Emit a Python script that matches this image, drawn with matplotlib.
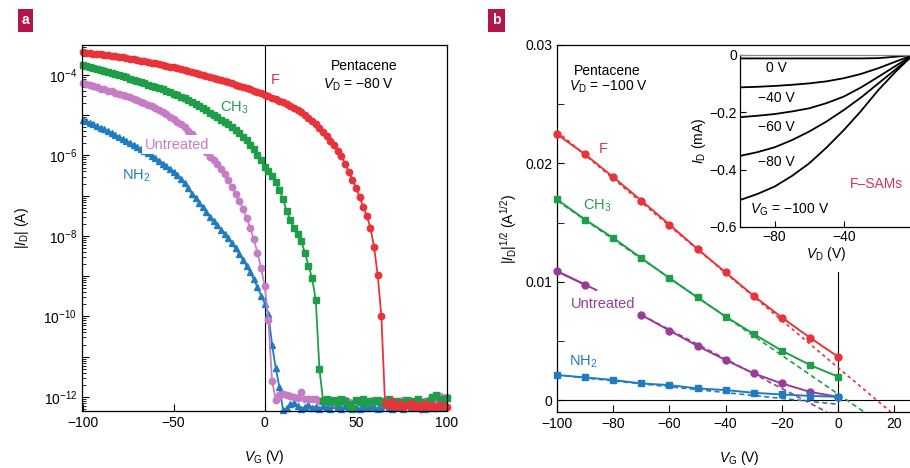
import numpy as np
import matplotlib
matplotlib.use('Agg')
import matplotlib.pyplot as plt
from matplotlib.ticker import LogLocator, FuncFormatter, NullFormatter

plt.rcParams['font.family'] = ['Liberation Sans', 'DejaVu Sans']
plt.rcParams['mathtext.fontset'] = 'custom'
plt.rcParams['mathtext.rm'] = 'Liberation Sans'
plt.rcParams['mathtext.it'] = 'Liberation Sans:italic'
plt.rcParams['mathtext.bf'] = 'Liberation Sans:bold'

# ---- panel a: transfer curves, log10(|I_D| / A), V_G swept -100..100 V in 2 V steps
vg_a = np.arange(-100, 101, 2)

f_log = [-3.44, -3.45, -3.46, -3.47, -3.48, -3.49, -3.50, -3.51, -3.52, -3.535,
         -3.55, -3.56, -3.58, -3.59, -3.605, -3.62, -3.64, -3.655, -3.675, -3.69,
         -3.71, -3.73, -3.75, -3.77, -3.79, -3.81, -3.83, -3.85, -3.87, -3.895,
         -3.92, -3.94, -3.965, -3.99, -4.015, -4.04, -4.07, -4.095, -4.125, -4.15,
         -4.18, -4.21, -4.24, -4.27, -4.30, -4.33, -4.36, -4.39, -4.42, -4.455,
         -4.49,
         -4.52, -4.56, -4.60, -4.64, -4.68, -4.73, -4.78, -4.83, -4.88, -4.93,
         -5.00, -5.07, -5.15, -5.23, -5.31, -5.41, -5.52, -5.63, -5.75, -5.88,
         -6.02, -6.20, -6.40, -6.60, -6.80, -7.02, -7.28, -7.50, -7.80, -8.28,
         -8.98, -10.0,
         -12.15, -12.22, -12.10, -12.25, -12.18, -12.28, -12.20, -12.14, -12.26,
         -12.20, -12.30, -12.17, -12.24, -12.21, -12.27, -12.19, -12.23, -12.25]

ch3_log = [-3.75, -3.77, -3.80, -3.82, -3.845, -3.87, -3.895, -3.92, -3.95, -3.975,
           -4.00, -4.03, -4.06, -4.09, -4.12, -4.15, -4.18, -4.21, -4.24, -4.27,
           -4.30, -4.33, -4.36, -4.39, -4.425, -4.46, -4.50, -4.54, -4.58, -4.62,
           -4.66, -4.71, -4.76, -4.82, -4.88, -4.94, -4.99, -5.05, -5.11, -5.16,
           -5.22, -5.29, -5.37, -5.45, -5.53, -5.62, -5.73, -5.85, -5.98, -6.12,
           -6.28,
           -6.38, -6.50, -6.65, -6.85, -7.08, -7.38, -7.60, -7.80, -7.94, -8.12,
           -8.42, -8.74, -9.05, -9.60, -11.30,
           -12.10, -12.05, -12.12, -12.08, -12.15, -12.06, -12.10, -12.18, -12.30,
           -12.08, -12.12, -12.05, -12.14, -12.09, -12.11, -12.07, -12.16, -12.10,
           -12.06, -12.13, -12.09, -12.20, -12.12, -12.08, -12.15, -12.10, -12.06,
           -12.12, -12.18, -12.09, -12.00, -11.96, -12.05, -12.10, -12.02]

untr_log = [-4.20, -4.22, -4.25, -4.28, -4.31, -4.34, -4.36, -4.39, -4.41, -4.44,
            -4.46, -4.49, -4.52, -4.55, -4.59, -4.62, -4.66, -4.70, -4.74, -4.78,
            -4.83, -4.88, -4.93, -4.98, -5.04, -5.10, -5.16, -5.23, -5.30, -5.38,
            -5.47, -5.57, -5.68, -5.80, -5.92, -6.03, -6.12, -6.22, -6.33, -6.47,
            -6.62, -6.78, -6.95, -7.13, -7.32, -7.55, -7.80, -8.08, -8.42, -8.80,
            -9.25,
            -10.10, -11.60, -12.07, -11.95, -11.94, -11.96, -11.98, -12.00, -12.02,
            -11.89, -12.04, -12.05, -12.04, -12.06, -12.10, -12.08, -12.12, -12.09,
            -12.14, -12.10, -12.13, -12.08, -12.12, -12.15, -12.10, -12.13, -12.09,
            -12.14, -12.11, -12.08, -12.12, -12.16, -12.10, -12.13, -12.09, -12.15,
            -12.11, -12.08, -12.14, -12.10, -12.12, -12.09, -12.15, -12.11, -12.07,
            -12.12, -12.06, -11.98, -12.03, -12.00]

nh2_log = [-5.11, -5.15, -5.19, -5.23, -5.27, -5.31, -5.35, -5.39, -5.44, -5.49,
           -5.54, -5.59, -5.64, -5.69, -5.74, -5.79, -5.84, -5.89, -5.95, -6.01,
           -6.07, -6.13, -6.20, -6.27, -6.33,
           -6.40, -6.49, -6.59, -6.69, -6.80, -6.95, -7.06, -7.17, -7.29, -7.40,
           -7.52, -7.63, -7.73, -7.84, -7.95, -8.06, -8.18, -8.31, -8.45, -8.59,
           -8.74, -8.90, -9.08, -9.28, -9.48, -9.68,
           -9.95, -10.70, -11.28, -11.75, -12.32,
           -12.28, -12.18, -12.15, -12.22, -12.30, -12.25, -12.20, -12.27, -12.24,
           -12.31, -12.22, -12.26, -12.29, -12.21, -12.25, -12.30, -12.23, -12.27,
           -12.20, -12.26, -12.31, -12.24, -12.28, -12.22, -12.25, -12.30, -12.27,
           -12.21, -12.26, -12.29, -12.23, -12.25, -12.31, -12.20, -12.24, -12.28,
           -12.22, -12.26, -12.30, -12.23, -12.27, -12.21, -12.25, -12.24, -12.22]

# ---- panel b: sqrt(|I_D|) vs V_G, V_D = -100 V
vg_b = [-100, -90, -80, -70, -60, -50, -40, -30, -20, -10, 0]
f_sqrt = [0.02246, 0.02076, 0.01884, 0.01686, 0.01483, 0.01277, 0.01079, 0.00881, 0.00698, 0.00528, 0.00367]
ch3_sqrt = [0.01695, 0.01525, 0.0137, 0.0120, 0.01031, 0.00867, 0.00706, 0.00559, 0.00418, 0.00297, 0.00198]
untr_sqrt = [0.01087, 0.00975, np.nan, 0.0072, 0.00588, 0.00458, 0.00339, 0.00226, 0.00141, 0.0007, 0.00028]
nh2_sqrt = [0.00212, 0.00192, 0.0017, 0.00141, 0.00127, 0.00099, 0.00085, 0.00062, 0.00048, 0.00036, 0.00028]

# linear fits (end points) used for threshold extraction
f_fit_v, f_fit_y = [-100, 18.8], [0.0227, -0.001]
ch3_fit_v, ch3_fit_y = [-100, 9.3], [0.01685, -0.001]
untr_fit_v, untr_fit_y = [-70, -4], [0.0072, -0.001]
untr_fit2_v, untr_fit2_y = [-100, -86], [0.0109, 0.0093]
nh2_fit_v, nh2_fit_y = [-100, 0], [0.00212, -0.00035]

# ---- inset: output curves of F-SAM device (I_D in mA)
vd_in = [-100, -90, -80, -70, -60, -50, -40, -30, -20, -10, 0]
vg_labels = ['0 V', '\u221240 V', '\u221260 V', '\u221280 V']
id_0 = [-0.012, -0.012, -0.012, -0.012, -0.012, -0.012, -0.012, -0.012, -0.011, -0.006, 0.0]
id_40 = [-0.113, -0.111, -0.108, -0.104, -0.099, -0.092, -0.081, -0.066, -0.046, -0.023, 0.0]
id_60 = [-0.217, -0.212, -0.206, -0.197, -0.186, -0.168, -0.145, -0.113, -0.076, -0.038, 0.0]
id_80 = [-0.352, -0.339, -0.322, -0.297, -0.267, -0.232, -0.192, -0.148, -0.099, -0.050, 0.0]
id_100 = [-0.506, -0.485, -0.459, -0.422, -0.378, -0.323, -0.262, -0.195, -0.122, -0.058, 0.0]

RED, GREEN, PURPLE, BLUE = '#e8333a', '#1f9e4a', '#c77cc6', '#1f7cc1'
PURPLE_B = '#983c98'
CRIMSON = '#d8325a'
VD = r'$V_{\rm D}$'
VG = r'$V_{\rm G}$'


def log_label(y, pos):
    e = int(round(-np.log10(y)))
    return r'10$^{-%d}$' % e if e % 2 == 0 else ''


fig = plt.figure(figsize=(9.1, 4.68), dpi=100)

# ================= panel a
axa = fig.add_axes([0.0901, 0.1218, 0.4011, 0.782])
series_a = [(nh2_log, BLUE, '^'), (untr_log, PURPLE, 'o'),
            (ch3_log, GREEN, 's'), (f_log, RED, 'o')]
for vals, col, mk in series_a:
    axa.plot(vg_a, 10.0 ** np.array(vals), color=col, lw=1.3, marker=mk,
             ms=4.6, mec=col, mfc=col, clip_on=False)
axa.set_yscale('log')
axa.set_xlim(-100.3, 100)
axa.set_ylim(10 ** -12.35, 10 ** -3.255)
axa.axvline(0, color='black', lw=0.8, zorder=1)
axa.yaxis.set_major_locator(LogLocator(base=10, numticks=20))
axa.yaxis.set_minor_locator(LogLocator(base=10, subs=np.arange(2, 10), numticks=20))
axa.yaxis.set_major_formatter(FuncFormatter(log_label))
axa.yaxis.set_minor_formatter(NullFormatter())
axa.set_xticks([-100, -50, 0, 50, 100])
axa.tick_params(direction='in', which='major', length=5, labelsize=10)
axa.tick_params(direction='in', which='minor', length=3)
for s in axa.spines.values():
    s.set_linewidth(0.9)
axa.set_xlabel(VG + ' (V)', fontsize=10, labelpad=13)
axa.set_ylabel(r'$|I_{\rm D}|$ (A)', fontsize=10, labelpad=9)

axa.text(54.5, 10 ** -3.77, 'Pentacene', ha='center', va='center', fontsize=10)
axa.text(51.5, 10 ** -4.24, VD + ' = \u221280 V', ha='center', va='center', fontsize=10)
axa.text(5.5, 10 ** -4.12, 'F', color=CRIMSON, ha='center', va='center', fontsize=10.5)
axa.text(-17, 10 ** -4.82, r'CH$_3$', color=GREEN, ha='center', va='center', fontsize=10.5)
axa.text(-48, 10 ** -5.73, 'Untreated', color=PURPLE, ha='center', va='center', fontsize=10.5,
         bbox=dict(fc='white', ec='none', pad=2), zorder=5)
axa.text(-70.7, 10 ** -6.5, r'NH$_2$', color=BLUE, ha='center', va='center', fontsize=10.5)

# ================= panel b
axb = fig.add_axes([0.6121, 0.1197, 0.4014, 0.7842])
axb.axhline(0, color='black', lw=0.8, zorder=1)
axb.axvline(0, ymax=0.381, color='black', lw=0.8, zorder=1)
series_b = [(f_sqrt, f_fit_v, f_fit_y, RED, 'o', (0, (2, 2))),
            (ch3_sqrt, ch3_fit_v, ch3_fit_y, GREEN, 's', (0, (3, 2))),
            (untr_sqrt, untr_fit_v, untr_fit_y, PURPLE_B, 'o', (0, (3, 2))),
            (nh2_sqrt, nh2_fit_v, nh2_fit_y, BLUE, 's', (0, (3, 2)))]
for vals, fv, fy, col, mk, ls in series_b:
    axb.plot(fv, fy, color=col, lw=1.2, ls=ls, zorder=2)
    axb.plot(vg_b, vals, color=col, lw=1.4, marker=mk, ms=5, zorder=3, clip_on=False)
axb.plot(untr_fit2_v, untr_fit2_y, color=PURPLE_B, lw=1.4, zorder=2)
axb.set_xlim(-100, 30)
axb.set_ylim(-0.001, 0.03)
axb.set_xticks([-100, -80, -60, -40, -20, 0, 20])
axb.set_yticks([0, 0.01, 0.02, 0.03])
axb.set_yticklabels(['0', '0.01', '0.02', '0.03'])
axb.set_yticks([0.005, 0.015, 0.025], minor=True)
axb.tick_params(direction='in', which='major', length=5, labelsize=10)
axb.tick_params(direction='in', which='minor', length=5)
for s in axb.spines.values():
    s.set_linewidth(0.9)
axb.set_xlabel(VG + ' (V)', fontsize=10, labelpad=13)
axb.set_ylabel(r'$|I_{\rm D}|^{1/2}$ (A$^{1/2}$)', fontsize=10, labelpad=4)

axb.text(-82, 0.0278, 'Pentacene', ha='center', va='center', fontsize=10)
axb.text(-81.8, 0.02644, VD + ' = \u2212100 V', ha='center', va='center', fontsize=10)
axb.text(-83.6, 0.0212, 'F', color=CRIMSON, ha='center', va='center', fontsize=10.5)
axb.text(-85.8, 0.01644, r'CH$_3$', color=GREEN, ha='center', va='center', fontsize=10.5)
axb.text(-83.5, 0.00814, 'Untreated', color=PURPLE_B, ha='center', va='center', fontsize=10.5,
         bbox=dict(fc='white', ec='none', pad=2), zorder=5)
axb.text(-90.7, 0.00322, r'NH$_2$', color=BLUE, ha='center', va='center', fontsize=10.5)

# ================= inset
axi = fig.add_axes([0.8132, 0.515, 0.1901, 0.3675])
axi.set_facecolor('white')
for vals in [id_0, id_40, id_60, id_80, id_100]:
    axi.plot(vd_in, vals, color='black', lw=1.3)
axi.set_xlim(-100, 0)
axi.set_ylim(-0.6, 0.0)
axi.set_xticks([-80, -40, 0])
axi.set_xticklabels(['\u221280', '\u221240', ''])
axi.set_yticks([0, -0.2, -0.4, -0.6])
axi.set_yticklabels(['0', '\u22120.2', '\u22120.4', '\u22120.6'])
axi.tick_params(direction='in', length=4, labelsize=10, pad=2)
for s in axi.spines.values():
    s.set_linewidth(0.9)
axi.spines['top'].set_color('#888888')
axi.set_xlabel(VD + ' (V)', fontsize=10, labelpad=1)
axi.set_ylabel(r'$I_{\rm D}$ (mA)', fontsize=10, labelpad=1)
lab_y = [-0.045, -0.15, -0.251, -0.373]
for txt, yy in zip(vg_labels, lab_y):
    axi.text(-79, yy, txt, ha='center', va='center', fontsize=10)
axi.text(-94.5, -0.54, VG + ' = \u2212100 V', ha='left', va='center', fontsize=10)
axi.text(-21, -0.45, 'F\u2013SAMs', color=CRIMSON, ha='center', va='center', fontsize=10)

# panel letters
for lx, lab in [(25.5, 'a'), (496.5, 'b')]:
    fig.text(lx / 910, 1 - 20.5 / 468, lab, ha='center', va='center', color='white',
             fontsize=10, weight='bold',
             bbox=dict(boxstyle='square,pad=0.3', fc='#b3164b', ec='none'))

fig.savefig('out.png', dpi=100)
